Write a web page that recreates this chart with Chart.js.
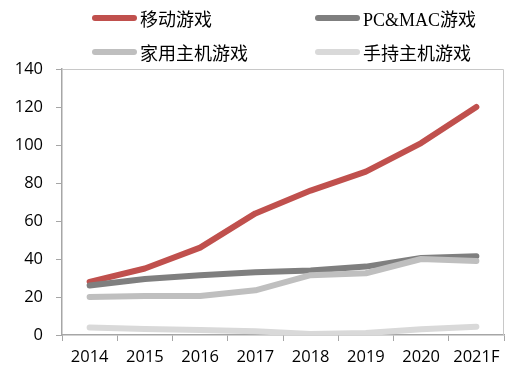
<!DOCTYPE html>
<html>
<head>
<meta charset="utf-8">
<script src="https://cdn.jsdelivr.net/npm/chart.js@4/dist/chart.umd.min.js"></script>
<style>
  html, body { margin: 0; padding: 0; background: #fff; }
  #wrap { position: relative; width: 522px; height: 375px; }
  #legend { position: absolute; left: 0; top: 0; width: 522px; height: 66px;
    font-family: "Liberation Serif", "Noto Sans CJK SC", serif; font-size: 18px; color: #000; }
  .item { position: absolute; display: flex; align-items: center; height: 22px; }
  .item span.sw { display: inline-block; width: 45px; height: 6px; border-radius: 3px; margin-right: 3px; }
</style>
</head>
<body>
<div id="wrap">
  <canvas id="c" width="522" height="375"></canvas>
  <div id="legend"></div>
</div>
<script>
const years = ['2014', '2015', '2016', '2017', '2018', '2019', '2020', '2021F'];
const seriesNames = ['移动游戏', 'PC&MAC游戏', '家用主机游戏', '手持主机游戏'];
const mobile = [28, 35, 46, 64, 76, 86, 101, 120];
const pcMac = [26, 29.5, 31.5, 33, 34, 36, 40.5, 41.5];
const console_ = [20, 20.5, 20.5, 23.5, 31.5, 32.5, 40, 39];
const handheld = [4, 3.2, 2.6, 2, 0.5, 1, 3, 4.4];
const yTicks = [0, 20, 40, 60, 80, 100, 120, 140];

const colors = ['#c0504d', '#7f7f7f', '#bfbfbf', '#d9d9d9'];
const values = [mobile, pcMac, console_, handheld];

// legend in a 2x2 grid, like the original
const legendPos = [[92, 7], [315, 7], [92, 41], [315, 41]];
const legend = document.getElementById('legend');
seriesNames.forEach((name, i) => {
  const d = document.createElement('div');
  d.className = 'item';
  d.style.left = legendPos[i][0] + 'px';
  d.style.top = legendPos[i][1] + 'px';
  d.innerHTML = '<span class="sw" style="background:' + colors[i] + '"></span>' + name;
  legend.appendChild(d);
});

// draw thin frame on top/right of the plot area
const frame = {
  id: 'frame',
  afterDraw(chart) {
    const a = chart.chartArea, ctx = chart.ctx;
    ctx.save();
    ctx.strokeStyle = '#c8c8c8';
    ctx.lineWidth = 1;
    ctx.beginPath();
    ctx.moveTo(a.left, a.top + 0.5);
    ctx.lineTo(a.right - 0.5, a.top + 0.5);
    ctx.lineTo(a.right - 0.5, a.bottom);
    ctx.stroke();
    ctx.restore();
  }
};

const axisGrey = '#a6a6a6';
const tickFont = { family: 'Open Sans', size: 16.5 };

new Chart(document.getElementById('c'), {
  type: 'line',
  data: {
    labels: years,
    datasets: seriesNames.map((name, i) => ({
      label: name,
      data: values[i],
      borderColor: colors[i],
      backgroundColor: colors[i],
      borderWidth: 6,
      borderCapStyle: 'round',
      borderJoinStyle: 'round',
      pointRadius: 0,
      tension: 0,
      order: 4 - i
    }))
  },
  options: {
    responsive: false,
    animation: false,
    layout: { padding: { top: 69, right: 18, left: 0, bottom: 0 } },
    plugins: { legend: { display: false }, tooltip: { enabled: false } },
    scales: {
      x: {
        offset: true,
        grid: { display: true, drawOnChartArea: false, drawTicks: true, tickLength: 6, color: axisGrey, offset: true },
        border: { color: axisGrey, width: 1.5 },
        ticks: { color: '#000', font: tickFont, padding: 6, maxRotation: 0 },
        afterFit: s => { s.height = 40; }
      },
      y: {
        min: 0,
        max: 140,
        afterBuildTicks: s => { s.ticks = yTicks.map(v => ({ value: v })); },
        grid: { display: true, drawOnChartArea: false, drawTicks: true, tickLength: 6, color: axisGrey },
        border: { color: axisGrey, width: 1.5 },
        ticks: { color: '#000', font: tickFont, padding: 13 },
        afterFit: s => { s.width = 62; }
      }
    }
  },
  plugins: [frame]
});
</script>
</body>
</html>
